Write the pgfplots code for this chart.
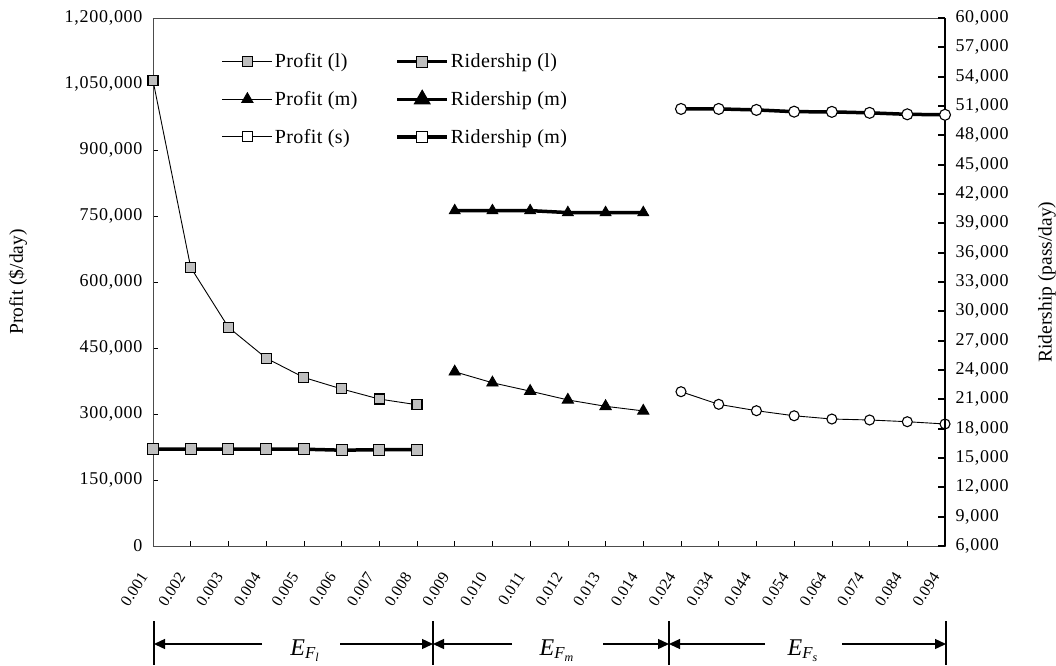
\documentclass[border=0pt]{standalone}
\usepackage{pgfplots}
\pgfplotsset{compat=1.18}
\usepackage{amsmath}
\usepackage{fontspec}
\setmainfont{Liberation Serif}
\newfontfamily\tickfont[LetterSpace=4]{Liberation Serif}
\newfontfamily\legfont[LetterSpace=2]{Liberation Serif}
\usetikzlibrary{arrows.meta}

\pgfplotstableread{
x   y
0   1058000
1   633000
2   497000
3   427000
4   383000
5   357000
6   334000
7   321000
}\profitl
\pgfplotstableread{
x   y
8   396000
9   371000
10  352000
11  332000
12  317500
13  307000
}\profitm
\pgfplotstableread{
x   y
14  350700
15  322000
16  307500
17  296000
18  288600
19  286400
20  282500
21  277300
}\profits
\pgfplotstableread{
x   y
0   15900
1   15900
2   15900
3   15900
4   15900
5   15800
6   15850
7   15850
}\ridel
\pgfplotstableread{
x   y
8   40300
9   40300
10  40300
11  40100
12  40100
13  40100
}\ridem
\pgfplotstableread{
x   y
14  50700
15  50700
16  50600
17  50420
18  50400
19  50300
20  50150
21  50100
}\rides

\begin{document}
\begin{tikzpicture}
\path[use as bounding box] (-153pt,-119pt) rectangle (903pt,546pt);
\begin{axis}[
  at={(0,0)}, anchor=south west,
  scale only axis, width=792pt, height=528pt,
  xmin=0, xmax=21, ymin=0, ymax=1200000,
  scaled y ticks=false, scaled x ticks=false,
  ytick pos=left, xtick pos=bottom, tick align=inside,
  ytick={0,150000,300000,450000,600000,750000,900000,1050000,1200000},
  yticklabels={0,{150,000},{300,000},{450,000},{600,000},{750,000},{900,000},{1,050,000},{1,200,000}},
  yticklabel style={font=\tickfont\fontsize{18}{18}\selectfont, xshift=-7pt},
  xtick={0,...,21},
  xticklabels={0.001,0.002,0.003,0.004,0.005,0.006,0.007,0.008,0.009,0.010,0.011,0.012,0.013,0.014,0.024,0.034,0.044,0.054,0.064,0.074,0.084,0.094},
  xticklabel style={font=\fontsize{16}{16}\selectfont, xshift=-9pt, yshift=-28pt, rotate=57, anchor=east, inner sep=0pt},
  major tick length=5pt,
  tick style={black, line width=0.6pt},
  axis line style={draw=gray!60!black, line width=0.8pt},
  every axis y label/.style={at={(axis description cs:-0.1705,0.5)},rotate=90,anchor=center},
  ylabel={Profit (\$/day)},
  label style={font=\fontsize{19.5}{20}\selectfont},
  clip=false,
]
\addplot[black, line width=0.9pt, mark=square*, mark size=5pt, mark options={fill=gray!50, draw=black, line width=1.1pt}] table[x=x,y=y] {\profitl};
\addplot[black, line width=0.9pt, mark=triangle*, mark size=6.5pt, mark options={fill=black, draw=black}] table[x=x,y=y] {\profitm};
\addplot[black, line width=0.9pt, mark=*, mark size=5pt, mark options={fill=white, draw=black, line width=1.1pt}] table[x=x,y=y] {\profits};
\end{axis}

\begin{axis}[
  at={(0,0)}, anchor=south west,
  scale only axis, width=792pt, height=528pt,
  xmin=0, xmax=21, ymin=6000, ymax=60000,
  scaled y ticks=false,
  axis y line*=right, axis x line=none, xtick=\empty,
  tick align=inside,
  ytick={6000,9000,12000,15000,18000,21000,24000,27000,30000,33000,36000,39000,42000,45000,48000,51000,54000,57000,60000},
  yticklabels={{6,000},{9,000},{12,000},{15,000},{18,000},{21,000},{24,000},{27,000},{30,000},{33,000},{36,000},{39,000},{42,000},{45,000},{48,000},{51,000},{54,000},{57,000},{60,000}},
  yticklabel style={font=\tickfont\fontsize{18}{18}\selectfont, xshift=7pt},
  y axis line style={line width=2.6pt, black},
  ytick style={line width=2.2pt, black},
  major tick length=7pt,
  every axis y label/.style={at={(axis description cs:1.1288,0.5)},rotate=90,anchor=center},
  ylabel={Ridership (pass/day)},
  label style={font=\fontsize{19.5}{20}\selectfont},
  clip=false,
  legend columns=2,
  legend style={draw=none, fill=none, at={(axis description cs:0.083,0.94)}, anchor=north west,
    font=\legfont\fontsize{20}{20}\selectfont, row sep=18pt,
    /tikz/column 2/.style={column sep=36pt}},
  legend cell align=left,
  legend image code/.code={\draw[mark repeat=2,mark phase=2,#1] plot coordinates {(0pt,0pt) (25pt,0pt) (50pt,0pt)};},
]
\addplot[black, line width=3.5pt, mark=square*, mark size=5.5pt, mark options={fill=gray!50, draw=black, line width=1.1pt}, forget plot] table[x=x,y=y] {\ridel};
\addplot[black, line width=3.5pt, mark=triangle*, mark size=6.5pt, mark options={fill=black, draw=black, line width=0.6pt}, forget plot] table[x=x,y=y] {\ridem};
\addplot[black, line width=3.5pt, mark=*, mark size=5.5pt, mark options={fill=white, draw=black, line width=1.1pt}, forget plot] table[x=x,y=y] {\rides};
\addlegendimage{black, line width=0.9pt, mark=square*, mark size=5pt, mark options={fill=gray!50, draw=black, line width=1.1pt}}
\addlegendentry{Profit (l)}
\addlegendimage{black, line width=3.5pt, mark=square*, mark size=5.5pt, mark options={fill=gray!50, draw=black, line width=1.1pt}}
\addlegendentry{Ridership (l)}
\addlegendimage{black, line width=0.9pt, mark=triangle*, mark size=6.5pt, mark options={fill=black, draw=black}}
\addlegendentry{Profit (m)}
\addlegendimage{black, line width=3.5pt, mark=triangle*, mark size=6.5pt, mark options={fill=black, draw=black}}
\addlegendentry{Ridership (m)}
\addlegendimage{black, line width=0.9pt, mark=square*, mark size=5pt, mark options={fill=white, draw=black, line width=1.1pt}}
\addlegendentry{Profit (s)}
\addlegendimage{black, line width=3.5pt, mark=square*, mark size=5.5pt, mark options={fill=white, draw=black, line width=1.1pt}}
\addlegendentry{Ridership (m)}
\end{axis}

% group brackets below the axis
\foreach \xx in {1,280,516,793} {
  \draw[black, line width=1.2pt] (\xx pt,-75pt) -- (\xx pt,-119pt);
}
\tikzset{grp/.style={black, line width=1.3pt, -{Triangle[length=11pt,width=10pt]}}}
\draw[grp] (109pt,-98pt) -- (1pt,-98pt);
\draw[grp] (187pt,-98pt) -- (280pt,-98pt);
\draw[grp] (359pt,-98pt) -- (280pt,-98pt);
\draw[grp] (450pt,-98pt) -- (516pt,-98pt);
\draw[grp] (612pt,-98pt) -- (516pt,-98pt);
\draw[grp] (689pt,-98pt) -- (793pt,-98pt);
\node[anchor=base, font=\fontsize{24}{24}\selectfont] at (152pt,-109pt) {$\textit{E}_{\textit{F}_{\textit{l}}}$};
\node[anchor=base, font=\fontsize{24}{24}\selectfont] at (404pt,-109pt) {$\textit{E}_{\textit{F}_{\textit{m}}}$};
\node[anchor=base, font=\fontsize{24}{24}\selectfont] at (650pt,-109pt) {$\textit{E}_{\textit{F}_{\textit{s}}}$};
\end{tikzpicture}
\end{document}
